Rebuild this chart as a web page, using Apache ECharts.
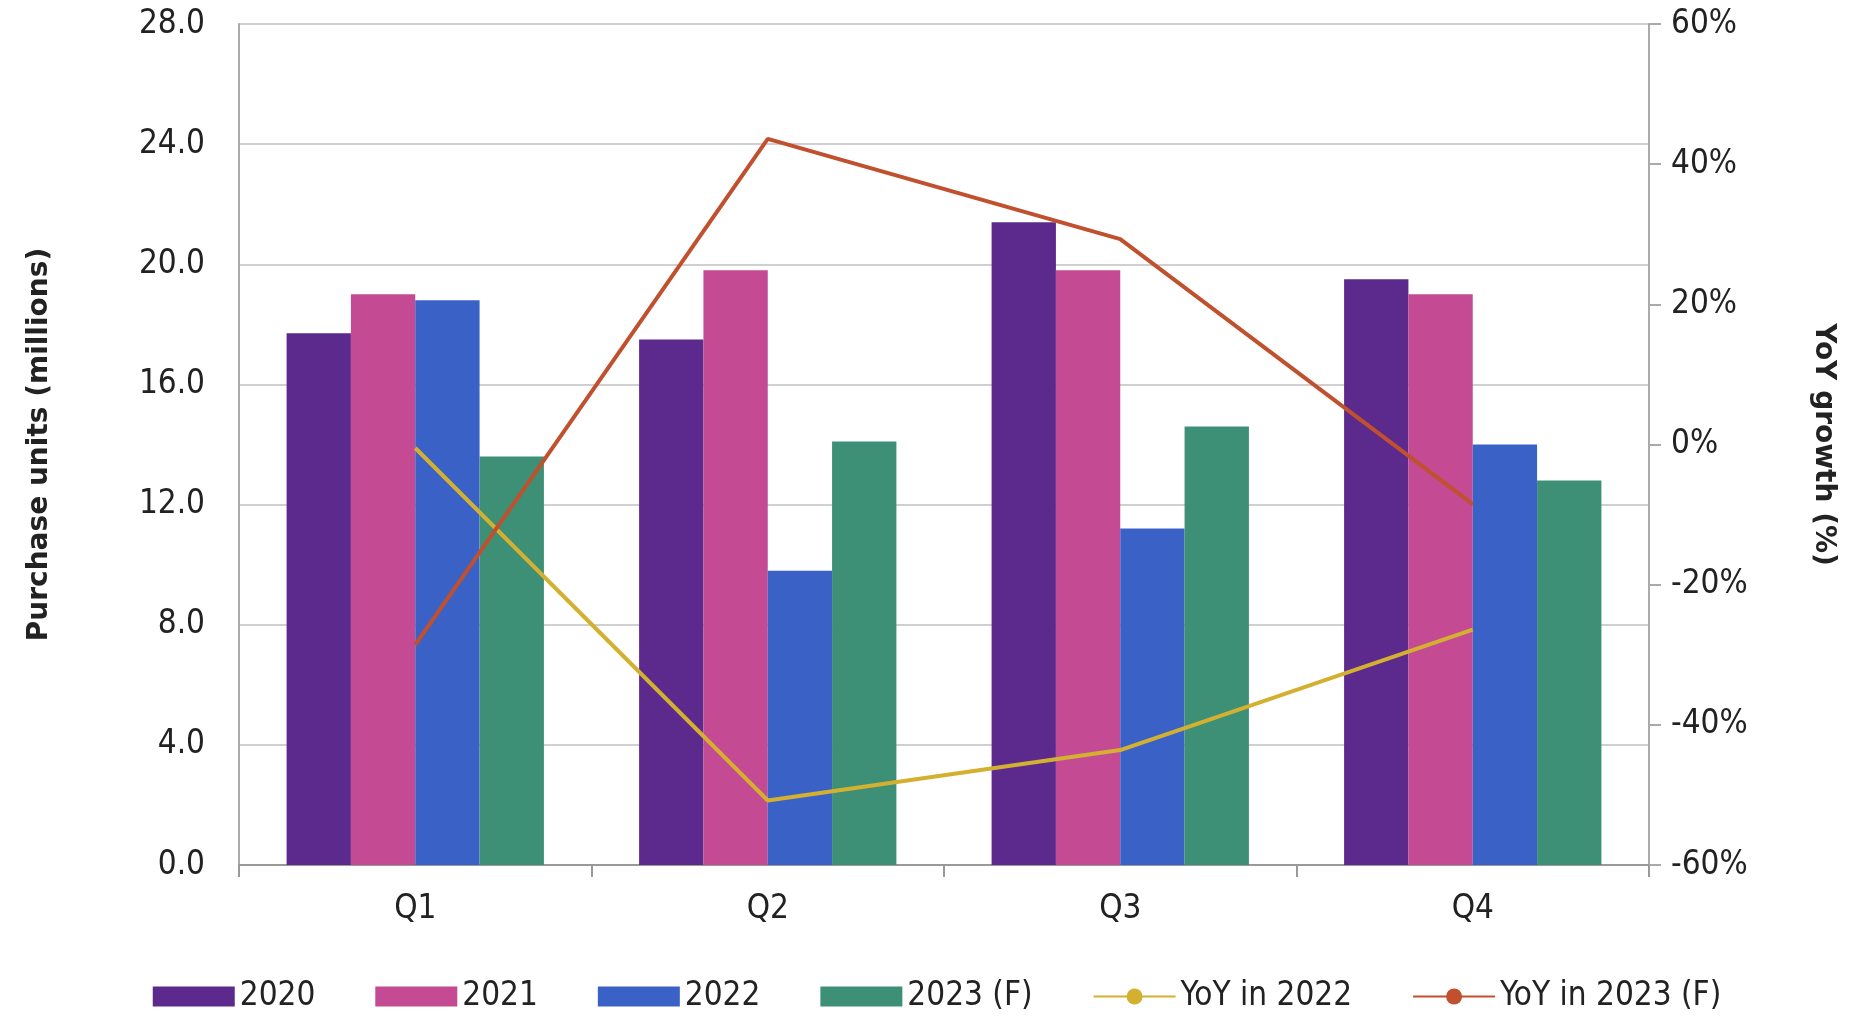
<!DOCTYPE html><html><head><meta charset="utf-8"><script src="https://cdn.jsdelivr.net/npm/echarts@6/dist/echarts.min.js"></script>
<style>html,body{margin:0;background:#fff}#c{width:1874px;height:1030px}</style></head><body><div id="c"></div><script>
const categories=['Q1','Q2','Q3','Q4'];
const s2020=[17.7,17.5,21.4,19.5];
const s2021=[19.0,19.8,19.8,19.0];
const s2022=[18.8,9.8,11.2,14.0];
const s2023=[13.6,14.1,14.6,12.8];
const yoy2022=[-0.5,-50.8,-43.6,-26.4];
const yoy2023=[-28.6,43.6,29.3,-8.5];
const F='"Liberation Sans Narrow","DejaVu Sans Condensed",sans-serif';
const c=echarts.init(document.getElementById('c'));
const bar=(n,d,col)=>({name:n,type:'bar',data:d,itemStyle:{color:col},barGap:'0%',barCategoryGap:'27%'});
const line=(n,d,col)=>({name:n,type:'line',yAxisIndex:1,data:d,symbol:'none',lineStyle:{color:col,width:4},itemStyle:{color:col}});
c.setOption({
animation:false,
grid:{left:239,right:225,top:24,bottom:165},
legend:{bottom:12,left:'center',itemWidth:82,itemHeight:20,itemGap:60,textStyle:{fontFamily:F,fontSize:33,color:'#222'},
data:[{name:'2020',icon:'rect'},{name:'2021',icon:'rect'},{name:'2022',icon:'rect'},{name:'2023 (F)',icon:'rect'},{name:'YoY in 2022'},{name:'YoY in 2023 (F)'}]},
xAxis:{type:'category',data:categories,axisLine:{lineStyle:{color:'#999',width:2}},axisTick:{show:true,length:12,lineStyle:{color:'#999',width:2}},
axisLabel:{fontFamily:F,fontSize:33,color:'#222',margin:28}},
yAxis:[{type:'value',min:0,max:28,interval:4,name:'Purchase units (millions)',nameLocation:'middle',nameGap:185,
nameTextStyle:{fontFamily:'DejaVu Sans',fontWeight:'bold',fontSize:28,color:'#222'},
axisLine:{show:true,lineStyle:{color:'#aaa',width:2}},axisTick:{show:false},
axisLabel:{formatter:v=>v.toFixed(1),fontFamily:F,fontSize:33,color:'#222',margin:34},splitLine:{lineStyle:{color:'#d0d0d0',width:2}}},
{type:'value',min:-60,max:60,interval:20,name:'YoY growth (%)',nameLocation:'middle',nameGap:160,nameRotate:-90,
nameTextStyle:{fontFamily:'DejaVu Sans',fontWeight:'bold',fontSize:28,color:'#222'},
axisLine:{show:true,lineStyle:{color:'#aaa',width:2}},axisTick:{show:true,length:12,lineStyle:{color:'#aaa',width:2}},
axisLabel:{formatter:v=>v+'%',fontFamily:F,fontSize:33,color:'#222',margin:22},splitLine:{show:false}}],
series:[bar('2020',s2020,'#5B2A8C'),bar('2021',s2021,'#C44A94'),bar('2022',s2022,'#3A62C6'),bar('2023 (F)',s2023,'#3D8F76'),
line('YoY in 2022',yoy2022,'#D4B030'),line('YoY in 2023 (F)',yoy2023,'#C0502E')]
});
</script></body></html>
